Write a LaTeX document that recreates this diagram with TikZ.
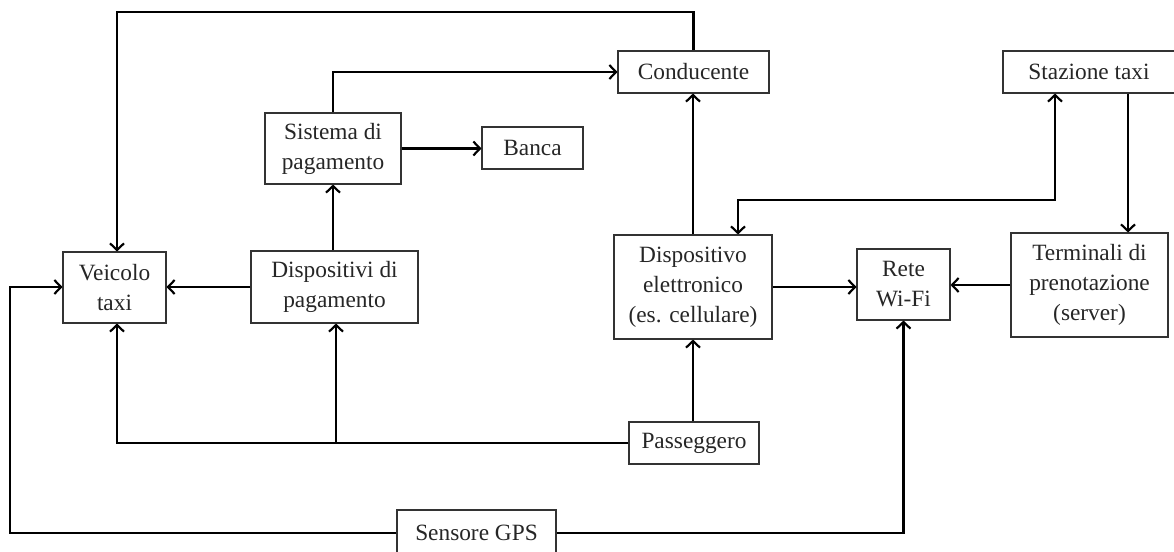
\documentclass[tikz,border=0pt]{standalone}
\usepackage{fontspec}
\setmainfont{Liberation Serif}
\usetikzlibrary{arrows.meta,calc}
\tikzset{
  box/.style={draw=black!80, line width=0.8pt, align=center, inner sep=0pt,
    text=black!85, font=\fontsize{17.5}{22.5}\selectfont},
  conn/.style={line width=1.6pt, black, line join=miter,
    arrows={-Straight Barb[length=5pt,width=10.5pt]}},
  both/.style={line width=1.6pt, black, line join=miter,
    arrows={Straight Barb[length=5pt,width=10.5pt]-Straight Barb[length=5pt,width=10.5pt]}}
}
\begin{document}
\begin{tikzpicture}[x=0.75pt,y=-0.75pt]
\useasboundingbox (0,0) rectangle (1174,552);
% nodes
\node[box, minimum width=77.25pt, minimum height=53.25pt] (veicolo) at (114.5,287.5) {Veicolo\\taxi};
\node[box, minimum width=125.25pt, minimum height=54pt] (dpag) at (334.5,287) {Dispositivi di\\pagamento};
\node[box, minimum width=102pt, minimum height=53.25pt] (sist) at (333,148.5) {Sistema di\\pagamento};
\node[box, minimum width=75.75pt, minimum height=31.5pt] (banca) at (532.5,148) {Banca};
\node[box, minimum width=113.25pt, minimum height=31.5pt] (cond) at (693.5,72) {Conducente};
\node[box, minimum width=129pt, minimum height=31.5pt] (staz) at (1089,72) {Stazione taxi};
\node[box, minimum width=118.5pt, minimum height=78pt] (disp) at (693,287) {Dispositivo\\elettronico\\(es. cellulare)};
\node[box, minimum width=69.75pt, minimum height=53.25pt] (rete) at (903.5,284.5) {Rete\\Wi-Fi};
\node[box, minimum width=117.75pt, minimum height=78pt] (term) at (1089.5,285) {Terminali di\\prenotazione\\(server)};
\node[box, minimum width=97.5pt, minimum height=31.5pt] (pass) at (694,443) {Passeggero};
\node[box, minimum width=119.25pt, minimum height=34.5pt] (gps) at (476.5,533) {Sensore GPS};
% helper coordinates
\coordinate (c1) at (117,12);
\coordinate (c2) at (117,443);
\coordinate (c3) at (336,443);
\coordinate (c4) at (738,200);
\coordinate (c5) at (1055,200);
\coordinate (c6) at (1128,0);
\coordinate (c7) at (10,287);
% connectors
\draw[conn] (cond.north) |- (c1) -- (c1 |- veicolo.north);
\draw[conn] (sist.north) |- (cond.west);
\draw[conn] (sist.east) -- (sist.east -| banca.west);
\draw[conn] (sist.south |- dpag.north) -- (sist.south);
\draw[conn] (dpag.west) -- (dpag.west -| veicolo.east);
\draw[conn] (pass.west) -- (c2) -- (c2 |- veicolo.south);
\draw[conn] (c3) -- (c3 |- dpag.south);
\draw[conn] (disp.south |- pass.north) -- (disp.south);
\draw[conn] (disp.north) -- (disp.north |- cond.south);
\draw[both] (c4 |- disp.north) -- (c4) -- (c5) -- (c5 |- staz.south);
\draw[conn] (c6 |- staz.south) -- (c6 |- term.north);
\draw[conn] (term.west) -- (term.west -| rete.east);
\draw[conn] (disp.east) -- (disp.east -| rete.west);
\draw[conn] (gps.west) -| (c7) -- (c7 -| veicolo.west);
\draw[conn] (gps.east) -| (rete.south);
\end{tikzpicture}
\end{document}
